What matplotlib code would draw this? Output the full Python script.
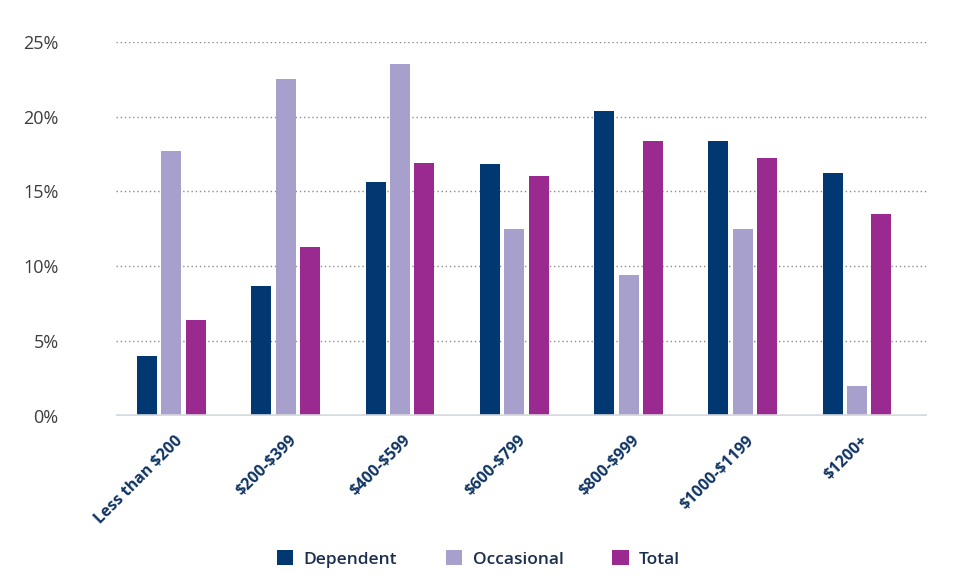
import matplotlib
matplotlib.use("Agg")
import matplotlib.pyplot as plt
import matplotlib.transforms as mtransforms
from matplotlib.patches import Patch
import numpy as np

# データ
categories = ["Less than $200", "$200-$399", "$400-$599", "$600-$799",
              "$800-$999", "$1000-$1199", "$1200+"]
dependent = [4.0, 8.7, 15.6, 16.8, 20.4, 18.4, 16.2]
occasional = [17.7, 22.5, 23.5, 12.5, 9.4, 12.5, 2.0]
total = [6.4, 11.3, 16.9, 16.0, 18.4, 17.2, 13.5]
y_ticks = [0, 5, 10, 15, 20, 25]

series = [("Dependent", dependent, "#023872"),
          ("Occasional", occasional, "#a79fcc"),
          ("Total", total, "#9a2a8f")]

plt.rcParams["font.family"] = ["Open Sans", "DejaVu Sans"]
plt.rcParams["text.parse_math"] = False  # "$" をそのまま表示

fig = plt.figure(figsize=(9.57, 5.84), dpi=100)
ax = fig.add_axes([115.5 / 957, 1 - 416 / 584, (927.3 - 115.5) / 957, (416 - 41.7) / 584])

x = np.arange(len(categories))
width = 0.175
step = 0.2127
for i, (name, vals, color) in enumerate(series):
    ax.bar(x + (i - 1) * step, vals, width, color=color, label=name, zorder=3)

ax.set_xlim(-0.488, 6.614)
ax.set_ylim(0, 25)

# グリッド（点線）
for t in y_ticks[1:]:
    ax.axhline(t, color="#8c8c8c", lw=1.0, ls=(0, (1, 2)), zorder=1)
ax.axhline(0, color="#d8dbde", lw=2.6, zorder=4)

for s in ax.spines.values():
    s.set_visible(False)

ax.set_yticks(y_ticks)
ax.set_yticklabels([f"{t}%" for t in y_ticks], fontsize=13, fontweight="medium",
                   color="#3d3d3d")
ax.tick_params(axis="y", length=0, pad=41)
ax.tick_params(axis="x", length=0, pad=12)

ax.set_xticks(x)
ax.set_xticklabels(categories, rotation=45, ha="right", va="top",
                   rotation_mode="anchor", fontsize=11.5, fontweight="bold",
                   color="#0f3463")
offset = mtransforms.ScaledTranslation(3 / 100, 0, fig.dpi_scale_trans)
for lab in ax.get_xticklabels():
    lab.set_transform(lab.get_transform() + offset)

handles = [Patch(facecolor=c, label=n) for n, _, c in series]
leg = fig.legend(handles=handles, loc="center", bbox_to_anchor=(478.5 / 957, 1 - 559 / 584),
                 ncol=3, frameon=False, fontsize=12.5, handlelength=0.95, handleheight=0.95,
                 handletextpad=0.6, columnspacing=2.8, labelcolor="#1a2e4f")
for t in leg.get_texts():
    t.set_fontweight("semibold")

fig.savefig("out.png", dpi=100)
